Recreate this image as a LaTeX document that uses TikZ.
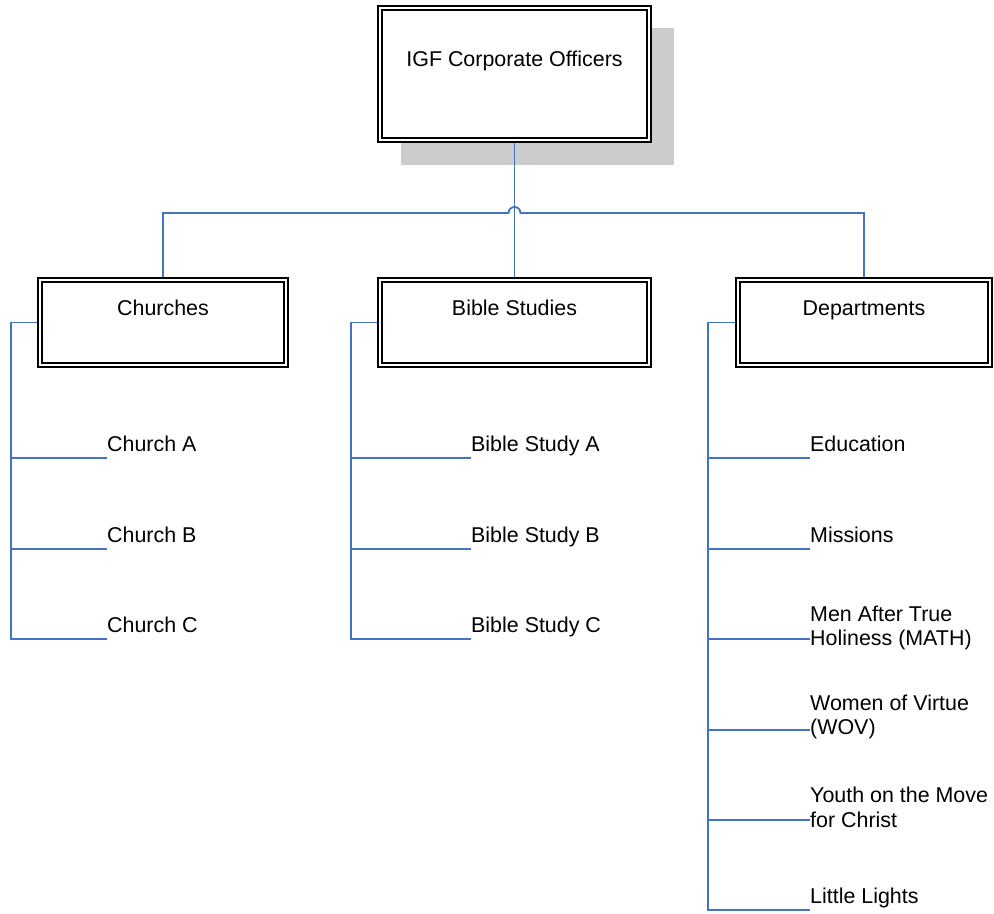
\documentclass[tikz,border=0pt]{standalone}
\usepackage{fontspec}
\setmainfont{Liberation Sans}
\usetikzlibrary{positioning}
\definecolor{linkblue}{RGB}{68,114,196}
\definecolor{shadowgray}{RGB}{204,204,204}

\begin{document}
\begin{tikzpicture}[x=1bp,y=1bp,line join=miter,
  orgbox/.style={draw=black,line width=1.8bp,double=white,double distance=2.4bp,
    fill=white,inner sep=0pt,outer sep=3bp,text height=15bp,text depth=29bp,
    font=\fontsize{21.5}{25}\selectfont},
  item/.style={anchor=west,align=left,inner sep=0pt,font=\fontsize{21.5}{25}\selectfont},
  oneline/.style={item,text height=15.5bp,text depth=0bp},
  link/.style={draw=linkblue,line width=1.9bp},
]
\useasboundingbox (0bp,0bp) rectangle (994bp,914bp);
%%
\fill [shadowgray] (401bp,749bp) rectangle (674bp,886bp);
\node (igf) at (514.5bp,840bp) [orgbox,minimum width=269bp,minimum height=132bp] {IGF Corporate Officers};
  \node (churches) at (163bp,591.5bp) [orgbox,minimum width=246bp,minimum height=85bp] {Churches};
  \node (bible) at (514.5bp,591.5bp) [orgbox,minimum width=269bp,minimum height=85bp] {Bible Studies};
  \node (depts) at (864bp,591.5bp) [orgbox,minimum width=252bp,minimum height=85bp] {Departments};
  \coordinate (bar) at (514.5bp,701bp);
%
  \coordinate (churchA-end) at (107bp,456bp);
  \coordinate (churchB-end) at (107bp,365bp);
  \coordinate (churchC-end) at (107bp,275bp);
  \node (churchA) at (107bp,470bp) [oneline] {Church A};
  \node (churchB) at (107bp,379bp) [oneline] {Church B};
  \node (churchC) at (107bp,289bp) [oneline] {Church C};
%
  \coordinate (studyA-end) at (471bp,456bp);
  \coordinate (studyB-end) at (471bp,365bp);
  \coordinate (studyC-end) at (471bp,275bp);
  \node (studyA) at (471bp,470bp) [oneline] {Bible Study A};
  \node (studyB) at (471bp,379bp) [oneline] {Bible Study B};
  \node (studyC) at (471bp,289bp) [oneline] {Bible Study C};
%
  \coordinate (education-end) at (810bp,456bp);
  \coordinate (missions-end) at (810bp,365bp);
  \coordinate (math-end) at (810bp,275bp);
  \coordinate (wov-end) at (810bp,184bp);
  \coordinate (youth-end) at (810bp,94bp);
  \coordinate (lights-end) at (810bp,4bp);
  \node (education) at (810bp,470bp) [oneline] {Education};
  \node (missions) at (810bp,379bp) [oneline] {Missions};
  \node (math) at (810bp,286bp) [item] {Men After True\\Holiness (MATH)};
  \node (wov) at (810bp,197bp) [item] {Women of Virtue\\(WOV)};
  \node (youth) at (810bp,107bp) [item] {Youth on the Move\\for Christ};
  \node (lights) at (810bp,18bp) [oneline] {Little Lights};
%
  \draw [link] (igf.south) -- (bible.north);
  \draw [link] (churches.north) |- ([xshift=-6bp]bar) arc[start angle=180,end angle=0,radius=6bp] -| (depts.north);
%
  \draw [link] (churches.west) -| ([xshift=-96bp]churchA-end) -- (churchA-end);
  \draw [link] (churches.west) -| ([xshift=-96bp]churchB-end) -- (churchB-end);
  \draw [link] (churches.west) -| ([xshift=-96bp]churchC-end) -- (churchC-end);
  \draw [link] (bible.west) -| ([xshift=-120bp]studyA-end) -- (studyA-end);
  \draw [link] (bible.west) -| ([xshift=-120bp]studyB-end) -- (studyB-end);
  \draw [link] (bible.west) -| ([xshift=-120bp]studyC-end) -- (studyC-end);
  \draw [link] (depts.west) -| ([xshift=-102bp]education-end) -- (education-end);
  \draw [link] (depts.west) -| ([xshift=-102bp]missions-end) -- (missions-end);
  \draw [link] (depts.west) -| ([xshift=-102bp]math-end) -- (math-end);
  \draw [link] (depts.west) -| ([xshift=-102bp]wov-end) -- (wov-end);
  \draw [link] (depts.west) -| ([xshift=-102bp]youth-end) -- (youth-end);
  \draw [link] (depts.west) -| ([xshift=-102bp]lights-end) -- (lights-end);
%
\end{tikzpicture}
\end{document}
